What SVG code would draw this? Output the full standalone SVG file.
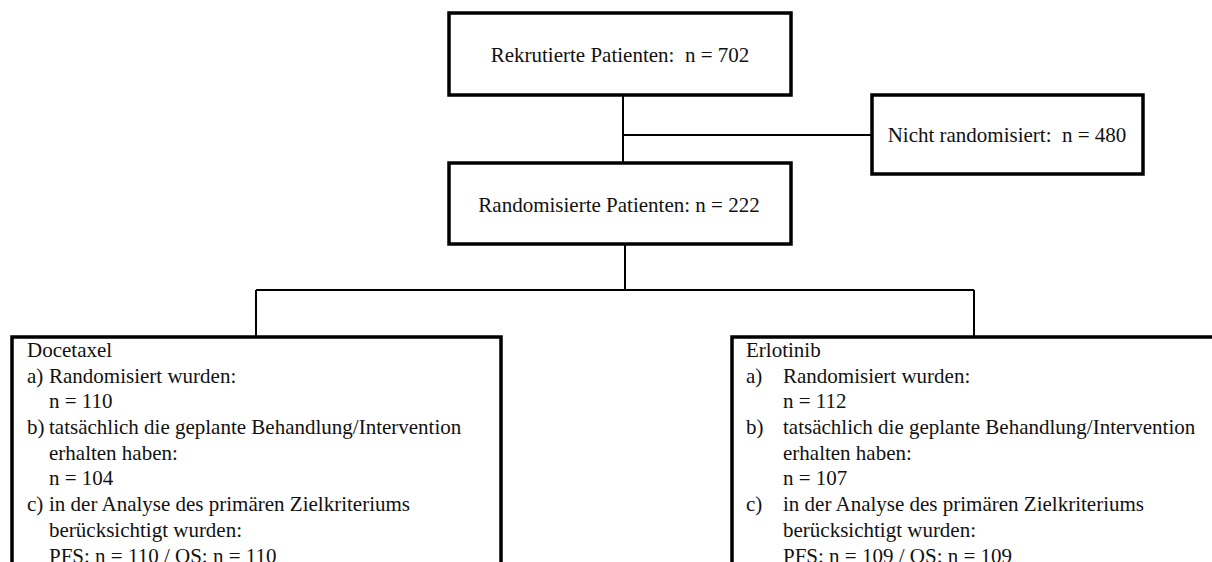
<svg xmlns="http://www.w3.org/2000/svg" width="1212" height="562" viewBox="0 0 1212 562">
<style>
.box{fill:#fff;stroke:#000;stroke-width:3.5}
.conn{fill:none;stroke:#000;stroke-width:2}
text{font-family:'Liberation Serif','DejaVu Serif',serif;font-size:21px;fill:#111}
.c{text-anchor:middle}
</style>
<rect width="1212" height="562" fill="#fff"/>
<g id="connectors">
<path class="conn" d="M623,95 V163 M623,135 H872"/>
<path class="conn" d="M625,244 V290 M256,290 H974 M256,290 V337 M974,290 V337"/>
</g>
<g id="rekrutiert">
<rect class="box" x="449" y="13" width="342" height="82"/>
<text class="c" x="620" y="62" xml:space="preserve">Rekrutierte Patienten:  n = 702</text>
</g>
<g id="nicht-randomisiert">
<rect class="box" x="872" y="95" width="271" height="79"/>
<text class="c" x="1007" y="142" xml:space="preserve">Nicht randomisiert:  n = 480</text>
</g>
<g id="randomisiert">
<rect class="box" x="449" y="163" width="342" height="81"/>
<text class="c" x="619" y="212">Randomisierte Patienten: n = 222</text>
</g>
<g id="docetaxel">
<rect class="box" x="12" y="337" width="489" height="240"/>
<text x="27" y="357">Docetaxel</text>
<text x="27" y="383">a)</text><text x="49" y="383">Randomisiert wurden:</text>
<text x="49" y="408">n = 110</text>
<text x="27" y="434">b)</text><text x="49" y="434">tatsächlich die geplante Behandlung/Intervention</text>
<text x="49" y="460">erhalten haben:</text>
<text x="49" y="485">n = 104</text>
<text x="27" y="511">c)</text><text x="49" y="511">in der Analyse des primären Zielkriteriums</text>
<text x="49" y="537">berücksichtigt wurden:</text>
<text x="49" y="563">PFS: n = 110 / OS: n = 110</text>
</g>
<g id="erlotinib">
<rect class="box" x="732" y="337" width="500" height="240"/>
<text x="746" y="357">Erlotinib</text>
<text x="746" y="383">a)</text><text x="783" y="383">Randomisiert wurden:</text>
<text x="783" y="408">n = 112</text>
<text x="746" y="434">b)</text><text x="783" y="434">tatsächlich die geplante Behandlung/Intervention</text>
<text x="783" y="460">erhalten haben:</text>
<text x="783" y="485">n = 107</text>
<text x="746" y="511">c)</text><text x="783" y="511">in der Analyse des primären Zielkriteriums</text>
<text x="783" y="537">berücksichtigt wurden:</text>
<text x="783" y="563">PFS: n = 109 / OS: n = 109</text>
</g>
</svg>
